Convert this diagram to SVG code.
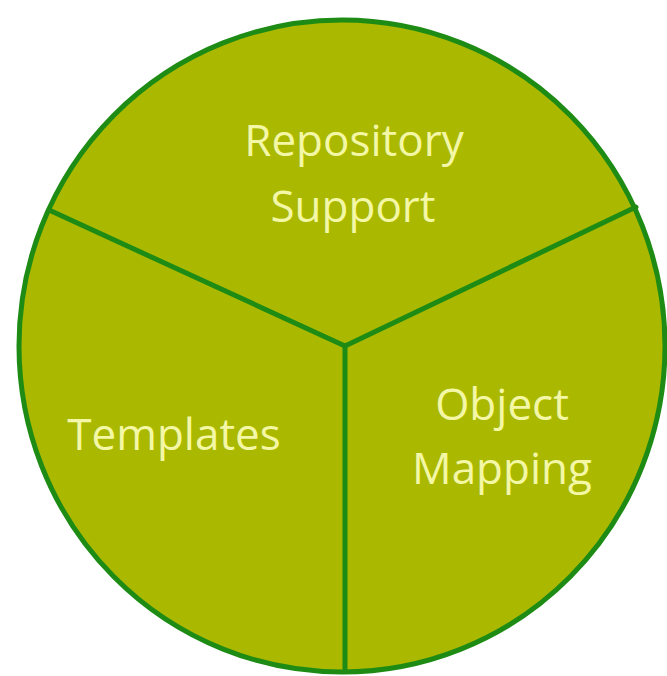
<svg xmlns="http://www.w3.org/2000/svg" width="667" height="676" viewBox="0 0 667 676">
<style>
.seg{fill:none;stroke:#1e8c14;stroke-width:5;stroke-linecap:round}
.lbl{font-family:"Open Sans","Noto Sans",sans-serif;font-size:44px;fill:#f3f7a6;text-anchor:middle}
</style>
<rect width="667" height="676" fill="#ffffff"/>
<g id="pie">
<ellipse cx="342" cy="346" rx="323" ry="326" fill="#aab900" stroke="#1e8c14" stroke-width="5"/>
</g>
<g id="connectors">
<path class="seg" d="M49 210 L345 346 L636 207"/>
<path class="seg" d="M345 346 L345 671"/>
</g>
<g id="repository-support">
<text class="lbl" x="354" y="156">Repository</text>
<text class="lbl" x="353" y="222">Support</text>
</g>
<g id="templates">
<text class="lbl" x="174" y="450">Templates</text>
</g>
<g id="object-mapping">
<text class="lbl" x="502" y="420">Object</text>
<text class="lbl" x="502" y="484">Mapping</text>
</g>
</svg>
